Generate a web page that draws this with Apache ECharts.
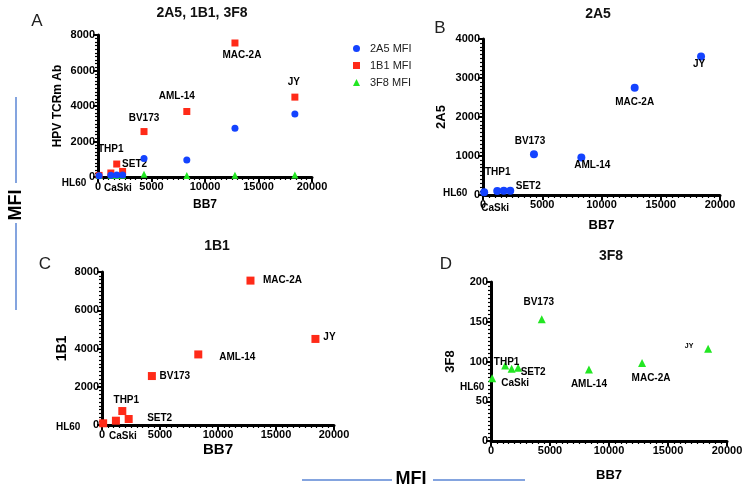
<!DOCTYPE html>
<html><head><meta charset="utf-8">
<script src="https://cdn.jsdelivr.net/npm/echarts@6/dist/echarts.min.js"></script>
<style>html,body{margin:0;padding:0;background:#fff}#c{width:747px;height:486px}</style>
</head><body><div id="c"></div>
<script>
// ---- data ----
const cellLines = ['HL60','CaSki','THP1','SET2','BV173','AML-14','MAC-2A','JY'];
const bb7     = [100, 1200, 1750, 2300, 4300, 8300, 12800, 18400];
const mfi2A5  = [70, 100, 110, 110, 1045, 960, 2750, 3550];
const mfi1B1  = [90, 225, 730, 313, 2560, 3690, 7550, 4500];
const mfi3F8  = [79, 95, 91, 92, 153, 90, 98, 116];
const legendNames = ['2A5 MFI','1B1 MFI','3F8 MFI'];
const panelTitles = ['2A5, 1B1, 3F8','2A5','1B1','3F8'];
const yNames = ['HPV TCRm Ab','2A5','1B1','3F8'];
const yMax = [8000, 4000, 8000, 200];
const yInt = [2000, 1000, 2000, 50];
const xMax = 20000, xInt = 5000;

// ---- label placement (px offsets from the point centre) ----
const labelOffsets = {
  A: {HL60:[-25,8], CaSki:[7,15], THP1:[-6,-15], SET2:[12,-7], BV173:[0,-13], 'AML-14':[-10,-15], 'MAC-2A':[7,12], JY:[-1,-15]},
  B: {HL60:[-29,1], CaSki:[-2,17], THP1:[-6,-18], SET2:[18,-4], BV173:[-4,-13], 'AML-14':[11,8], 'MAC-2A':[0,14], JY:[-2,8]},
  C: {HL60:[-35,4], CaSki:[7,16], THP1:[4,-11], SET2:[31,-1], BV173:[23,0], 'AML-14':[39,3], 'MAC-2A':[32,0], JY:[14,-2]},
  D: {HL60:[-20,9], CaSki:[10,18], THP1:[-5,-6], SET2:[15,4], BV173:[-3,-17], 'AML-14':[0,15], 'MAC-2A':[9,15], JY:[-19,-3]}
};
const labelSizes = {D: {JY: 7}};

const F = 'Liberation Sans, Arial, sans-serif';
const BLUE = '#1443ff', RED = '#ff2a18', GREEN = '#22e622';

function pts(ys, panel) {
  return cellLines.map((n, i) => {
    const item = {name: n, value: [bb7[i], ys[i]]};
    if (panel) {
      item.label = {offset: labelOffsets[panel][n]};
      if (labelSizes[panel] && labelSizes[panel][n]) item.label.fontSize = labelSizes[panel][n];
    }
    return item;
  });
}
const ptLabel = {show: true, position: 'inside', formatter: '{b}', color: '#000', fontWeight: 'bold',
  fontSize: 10, fontFamily: F, textBorderWidth: 0, align: 'center', verticalAlign: 'middle'};

const grids = [
  {left: 98, top: 35, width: 214, height: 142},
  {left: 483, top: 39, width: 237, height: 156},
  {left: 102, top: 272, width: 232, height: 153},
  {left: 491, top: 282, width: 236, height: 159}
];
const xNameGap = [22, 24, 17, 28];
const xNameSize = [12, 13, 15, 13];
const yNameGap = [34, 35, 33, 34];
const yNameSize = [12, 13, 14, 13];

const tickLabel = {fontWeight: 'bold', fontSize: 11, color: '#000', fontFamily: F, formatter: v => String(v)};
const mainAxis = {
  axisLine: {show: true, onZero: false, lineStyle: {color: '#000', width: 3}},
  axisTick: {show: true, inside: false, length: 5, lineStyle: {color: '#000', width: 2}},
  splitLine: {show: false}, minorSplitLine: {show: false}
};
const xAxes = [], yAxes = [];
grids.forEach((g, i) => {
  xAxes.push(Object.assign({}, mainAxis, {
    type: 'value', gridIndex: i, position: 'bottom', min: 0, max: xMax, interval: xInt,
    name: 'BB7', nameLocation: 'middle', nameGap: xNameGap[i],
    nameTextStyle: {fontWeight: 'bold', fontSize: xNameSize[i], color: '#000', fontFamily: F},
    axisLabel: Object.assign({margin: 4}, tickLabel),
    minorTick: {show: true, splitNumber: 10, length: 3, lineStyle: {color: '#000', width: 1.2}}
  }));
  yAxes.push(Object.assign({}, mainAxis, {
    type: 'value', gridIndex: i, position: 'left', min: 0, max: yMax[i], interval: yInt[i],
    name: yNames[i], nameLocation: 'middle', nameGap: yNameGap[i], nameRotate: 90,
    nameTextStyle: {fontWeight: 'bold', fontSize: yNameSize[i], color: '#000', fontFamily: F},
    axisLabel: Object.assign({margin: 3}, tickLabel),
    minorTick: {show: true, splitNumber: 10, length: 3, lineStyle: {color: '#000', width: 1.2}}
  }));
});

const titlePos = [[202, 6], [598, 7], [217, 239], [611, 249]];
const titles = panelTitles.map((t, i) => ({
  text: t, left: titlePos[i][0], top: titlePos[i][1], textAlign: 'center', padding: 0,
  textStyle: {fontSize: 14, fontWeight: 'bold', color: '#111', fontFamily: F}
}));

const base = {type: 'scatter', emphasis: {disabled: true}, silent: true};
const st = c => ({color: c, opacity: 1});
const series = [
  Object.assign({}, base, {name: '1B1 MFI', xAxisIndex: 0, yAxisIndex: 0, symbol: 'rect', symbolSize: 7,
    itemStyle: st(RED), data: pts(mfi1B1, 'A'), label: ptLabel, z: 2}),
  Object.assign({}, base, {name: '3F8 MFI', xAxisIndex: 0, yAxisIndex: 0, symbol: 'triangle', symbolSize: 7,
    itemStyle: st(GREEN), data: pts(mfi3F8), z: 3}),
  Object.assign({}, base, {name: '2A5 MFI', xAxisIndex: 0, yAxisIndex: 0, symbol: 'circle', symbolSize: 7,
    itemStyle: st(BLUE), data: pts(mfi2A5), z: 4}),
  Object.assign({}, base, {name: '2A5', xAxisIndex: 1, yAxisIndex: 1, symbol: 'circle', symbolSize: 8,
    itemStyle: st(BLUE), data: pts(mfi2A5, 'B'), label: ptLabel}),
  Object.assign({}, base, {name: '1B1', xAxisIndex: 2, yAxisIndex: 2, symbol: 'rect', symbolSize: 8,
    itemStyle: st(RED), data: pts(mfi1B1, 'C'), label: ptLabel}),
  Object.assign({}, base, {name: '3F8', xAxisIndex: 3, yAxisIndex: 3, symbol: 'triangle', symbolSize: 8,
    itemStyle: st(GREEN), data: pts(mfi3F8, 'D'), label: ptLabel})
];

const LINE = '#5b86d4';
const letterPos = {A: [37, 21], B: [440, 28], C: [45, 264], D: [446, 264]};
const graphic = [
  {type: 'line', shape: {x1: 16, y1: 97, x2: 16, y2: 183}, style: {stroke: LINE, lineWidth: 1.5}},
  {type: 'line', shape: {x1: 16, y1: 223, x2: 16, y2: 310}, style: {stroke: LINE, lineWidth: 1.5}},
  {type: 'text', x: 16, y: 205, rotation: Math.PI / 2,
    style: {text: 'MFI', font: 'bold 18px ' + F, fill: '#000', textAlign: 'center', textVerticalAlign: 'middle'}},
  {type: 'line', shape: {x1: 302, y1: 480, x2: 392, y2: 480}, style: {stroke: LINE, lineWidth: 1.5}},
  {type: 'line', shape: {x1: 433, y1: 480, x2: 525, y2: 480}, style: {stroke: LINE, lineWidth: 1.5}},
  {type: 'text', x: 411, y: 479,
    style: {text: 'MFI', font: 'bold 18px ' + F, fill: '#000', textAlign: 'center', textVerticalAlign: 'middle'}}
].concat(Object.keys(letterPos).map(k => ({type: 'text', x: letterPos[k][0], y: letterPos[k][1],
  style: {text: k, font: '17px ' + F, fill: '#222', textAlign: 'center', textVerticalAlign: 'middle'}})));

const chart = echarts.init(document.getElementById('c'), null, {renderer: 'canvas'});
chart.setOption({
  animation: false,
  backgroundColor: '#fff',
  title: titles,
  legend: {
    data: [{name: legendNames[0], icon: 'circle'}, {name: legendNames[1], icon: 'rect'}, {name: legendNames[2], icon: 'triangle'}],
    orient: 'vertical', left: 348, top: 38, itemWidth: 7, itemHeight: 7, itemGap: 6, selectedMode: false,
    textStyle: {fontSize: 11, color: '#222', fontFamily: F, padding: [0, 0, 0, 5]}
  },
  grid: grids,
  xAxis: xAxes,
  yAxis: yAxes,
  series: series,
  graphic: graphic
});
</script></body></html>
